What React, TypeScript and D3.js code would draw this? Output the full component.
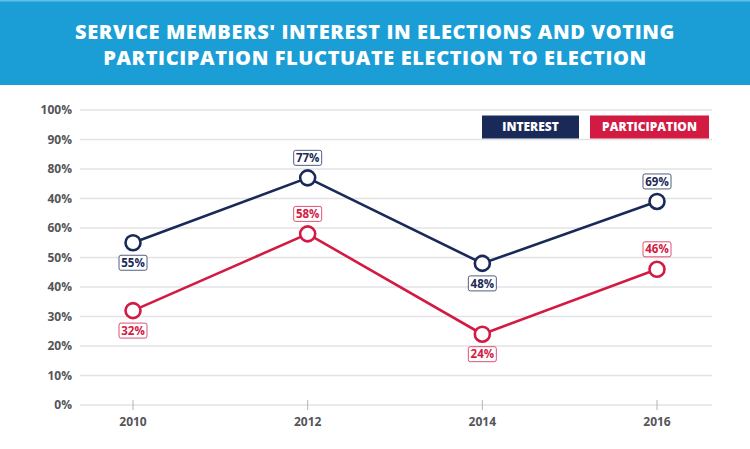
import React from "react";
import * as d3 from "d3";

const years = ["2010", "2012", "2014", "2016"];
const interest = [55, 77, 48, 69];
const participation = [32, 58, 24, 46];
const yTickValues = [0, 10, 20, 30, 40, 50, 60, 70, 80, 90, 100];
const yTickLabels = ["0%", "10%", "20%", "30%", "40%", "50%", "60%", "70%", "80%", "90%", "100%"];
// reference shows "40%" at the 70% gridline
yTickLabels[7] = "40%";
const interestLabelPos = ["below", "above", "below", "above"];
const participationLabelPos = ["below", "above", "below", "above"];
const titleLines = [
  "SERVICE MEMBERS' INTEREST IN ELECTIONS AND VOTING",
  "PARTICIPATION FLUCTUATE ELECTION TO ELECTION",
];

const W = 750;
const H = 449;
const NAVY = "#1a2a58";
const RED = "#d21a43";
const BLUE = "#1b9ed6";
const GREY = "#555559";
const FONT = "'Open Sans', Lato, sans-serif";

export default function App() {
  const x = d3.scalePoint<string>().domain(years).range([133, 657]);
  const y = d3.scaleLinear().domain([0, 100]).range([405, 110]);
  const line = d3
    .line<number>()
    .x((_, i) => x(years[i]) as number)
    .y((d) => y(d));

  const series = [
    { values: interest, color: NAVY, pos: interestLabelPos },
    { values: participation, color: RED, pos: participationLabelPos },
  ];

  return (
    <div style={{ position: "fixed", left: 0, top: 0 }}>
      <svg width={W} height={H} style={{ display: "block", background: "#fff" }}>
        <rect x={0} y={0} width={W} height={85} fill={BLUE} />
        <rect x={0} y={0} width={W} height={1.5} fill="#5fc0ea" />
        {titleLines.map((t, i) => (
          <text
            key={i}
            x={W / 2}
            y={39 + i * 26}
            textAnchor="middle"
            fill="#fff"
            fontFamily={FONT}
            fontWeight={800}
            fontSize={20}
            letterSpacing={0.6}
          >
            {t}
          </text>
        ))}

        {yTickValues.map((v, i) => (
          <g key={v}>
            <line x1={80} x2={712} y1={y(v)} y2={y(v)} stroke="#e3e3e6" strokeWidth={1.5} />
            <text
              x={72}
              y={y(v)}
              dy="0.35em"
              textAnchor="end"
              fill={GREY}
              fontFamily={FONT}
              fontWeight={700}
              fontSize={12}
            >
              {yTickLabels[i]}
            </text>
          </g>
        ))}

        {years.map((yr) => (
          <g key={yr}>
            <line x1={x(yr)} x2={x(yr)} y1={y(0) - 5} y2={y(0) + 5} stroke="#b5b5b8" strokeWidth={1} />
            <text
              x={x(yr)}
              y={y(0) + 21}
              textAnchor="middle"
              fill={GREY}
              fontFamily={FONT}
              fontWeight={700}
              fontSize={12}
            >
              {yr}
            </text>
          </g>
        ))}

        {series.map((s, si) => (
          <g key={si}>
            <path d={line(s.values) || ""} fill="none" stroke={s.color} strokeWidth={2.6} />
            {s.values.map((v, i) => {
              const cx = x(years[i]) as number;
              const cy = y(v);
              const ly = s.pos[i] === "above" ? cy - 20 : cy + 20;
              return (
                <g key={i}>
                  <circle cx={cx} cy={cy} r={7.5} fill="#fff" stroke={s.color} strokeWidth={2.6} />
                  <rect
                    x={cx - 14}
                    y={ly - 7.5}
                    width={28}
                    height={15}
                    rx={2}
                    fill="#fff"
                    stroke={s.color}
                    strokeOpacity={0.75}
                    strokeWidth={1}
                  />
                  <text
                    x={cx}
                    y={ly}
                    dy="0.36em"
                    textAnchor="middle"
                    fill={s.color}
                    fontFamily={FONT}
                    fontWeight={700}
                    fontSize={11.5}
                  >
                    {v}%
                  </text>
                </g>
              );
            })}
          </g>
        ))}

        <rect x={482} y={115.5} width={97} height={23} fill={NAVY} />
        <text x={530.5} y={127} dy="0.36em" textAnchor="middle" fill="#fff" fontFamily={FONT} fontWeight={800} fontSize={12}>
          INTEREST
        </text>
        <rect x={590} y={115.5} width={119} height={23} fill={RED} />
        <text x={649.5} y={127} dy="0.36em" textAnchor="middle" fill="#fff" fontFamily={FONT} fontWeight={800} fontSize={12}>
          PARTICIPATION
        </text>
      </svg>
    </div>
  );
}
